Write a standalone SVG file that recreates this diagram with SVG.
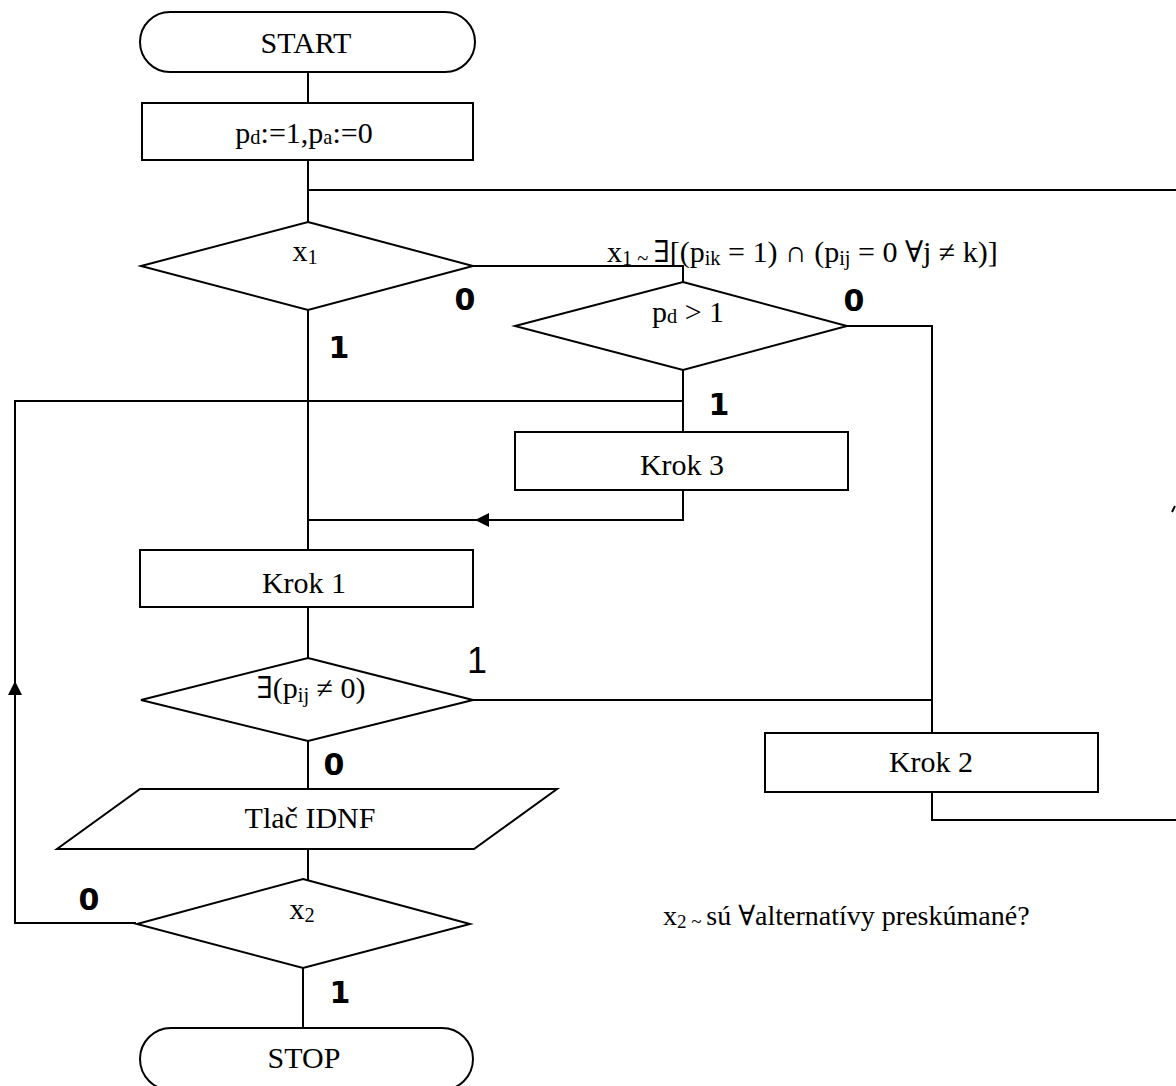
<svg xmlns="http://www.w3.org/2000/svg" width="1176" height="1086" viewBox="0 0 1176 1086">
  <style>
    .shape { fill: #fff; stroke: #000; stroke-width: 2; }
    .wire { fill: none; stroke: #000; stroke-width: 2; }
    .t { font-family: "Liberation Serif", "DejaVu Serif", "Times New Roman", serif; font-size: 30px; fill: #000; }
    .note { font-size: 28px; }
    .lbl { font-family: "DejaVu Sans", sans-serif; font-weight: bold; font-size: 30px; fill: #000; }
    .sub { font-size: 68%; }
  </style>
  <defs>
    <marker id="arr" viewBox="0 0 10 10" refX="5" refY="5" markerWidth="14" markerHeight="14" markerUnits="userSpaceOnUse" orient="auto">
      <path d="M0,0 L10,5 L0,10 z" fill="#000"/>
    </marker>
  </defs>

  <g id="connectors">
    <path class="wire" d="M308,72 V103"/>
    <path class="wire" d="M308,160 V222"/>
    <path class="wire" d="M308,190 H1176"/>
    <path class="wire" d="M473,266 H683 V282"/>
    <path class="wire" d="M847,326 H932 V733"/>
    <path class="wire" d="M683,370 V432"/>
    <path class="wire" d="M683,401 H15 V923 H136"/>
    <path class="wire" d="M15,700 V688" marker-end="url(#arr)"/>
    <path class="wire" d="M683,490 V520 H308"/>
    <path class="wire" d="M516,520 H482" marker-end="url(#arr)"/>
    <path class="wire" d="M308,310 V550"/>
    <path class="wire" d="M308,607 V658"/>
    <path class="wire" d="M473,700 H932"/>
    <path class="wire" d="M932,792 V820 H1176"/>
    <path class="wire" d="M308,741 V789"/>
    <path class="wire" d="M308,849 V880"/>
    <path class="wire" d="M303,968 V1028"/>
    <path class="wire" d="M1172,512 L1175,506" stroke-width="1.5"/>
  </g>

  <g id="start">
    <rect class="shape" x="140" y="12" width="335" height="60" rx="30" ry="30"/>
    <text class="t" x="306" y="53" text-anchor="middle">START</text>
  </g>

  <g id="init">
    <rect class="shape" x="142" y="103" width="331" height="57"/>
    <text class="t" x="304" y="143" text-anchor="middle">p<tspan class="sub" dy="1">d</tspan><tspan dy="-1">:=1,p</tspan><tspan class="sub" dy="1">a</tspan><tspan dy="-1">:=0</tspan></text>
  </g>

  <g id="x1">
    <polygon class="shape" points="308,222 473,266 308,310 141,266"/>
    <text class="t" x="305" y="261" text-anchor="middle">x<tspan class="sub" dy="3">1</tspan></text>
    <text class="lbl" x="465" y="310" text-anchor="middle">0</text>
    <text class="lbl" x="339" y="358" text-anchor="middle">1</text>
  </g>

  <g id="pd-test">
    <polygon class="shape" points="683,282 847,326 683,370 515,326"/>
    <text class="t" x="688" y="322" text-anchor="middle">p<tspan class="sub" dy="1">d</tspan><tspan dy="-1"> &gt; 1</tspan></text>
    <text class="lbl" x="854" y="311" text-anchor="middle">0</text>
    <text class="lbl" x="719" y="415" text-anchor="middle">1</text>
  </g>

  <g id="krok3">
    <rect class="shape" x="515" y="432" width="333" height="58"/>
    <text class="t" x="682" y="475" text-anchor="middle">Krok 3</text>
  </g>

  <g id="krok1">
    <rect class="shape" x="140" y="550" width="333" height="57"/>
    <text class="t" x="304" y="593" text-anchor="middle">Krok 1</text>
  </g>

  <g id="exists">
    <polygon class="shape" points="308,658 473,700 308,741 141,700"/>
    <text class="t" x="311" y="698" text-anchor="middle">∃(p<tspan class="sub" dy="4">ij</tspan><tspan dy="-4"> ≠ 0)</tspan></text>
    <text x="477" y="673" font-family="Liberation Sans, Arial, sans-serif" font-size="36" text-anchor="middle">1</text>
    <text class="lbl" x="334" y="775" text-anchor="middle">0</text>
  </g>

  <g id="krok2">
    <rect class="shape" x="765" y="733" width="333" height="59"/>
    <text class="t" x="931" y="772" text-anchor="middle">Krok 2</text>
  </g>

  <g id="print">
    <polygon class="shape" points="140,789 557,789 474,849 57,849"/>
    <text class="t" x="310" y="828" text-anchor="middle">Tlač IDNF</text>
  </g>

  <g id="x2">
    <polygon class="shape" points="303,879 470,924 303,968 137,924"/>
    <text class="t" x="302" y="919" text-anchor="middle">x<tspan class="sub" dy="3">2</tspan></text>
    <text class="lbl" x="89" y="910" text-anchor="middle">0</text>
    <text class="lbl" x="340" y="1003" text-anchor="middle">1</text>
  </g>

  <g id="stop">
    <rect class="shape" x="140" y="1028" width="333" height="62" rx="31" ry="31"/>
    <text class="t" x="304" y="1068" text-anchor="middle">STOP</text>
  </g>

  <g id="notes">
    <text class="t" x="607" y="262">x<tspan class="sub" dy="3">1 ~ </tspan><tspan dy="-3">∃[(p</tspan><tspan class="sub" dy="3">ik</tspan><tspan dy="-3"> = 1) ∩ (p</tspan><tspan class="sub" dy="3">ij</tspan><tspan dy="-3"> = 0 ∀j ≠ k)]</tspan></text>
    <text class="t note" x="663" y="925">x<tspan class="sub" dy="3">2 ~ </tspan><tspan dy="-3">sú ∀alternatívy preskúmané?</tspan></text>
  </g>
</svg>
